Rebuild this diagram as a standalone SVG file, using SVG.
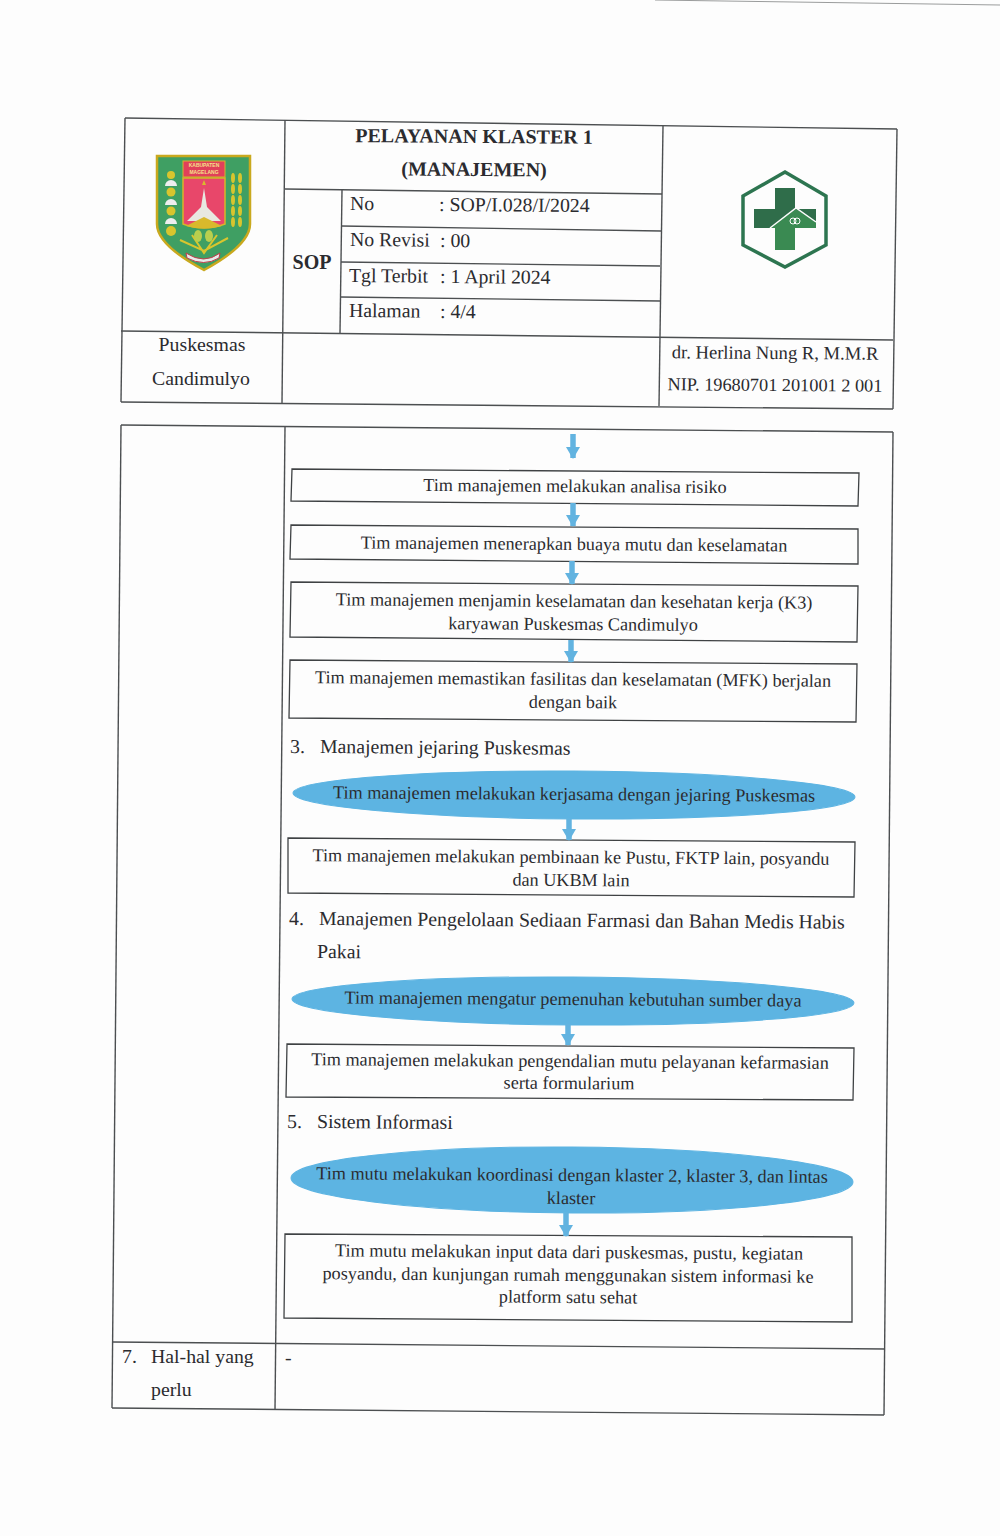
<svg xmlns="http://www.w3.org/2000/svg" width="1000" height="1536" viewBox="0 0 1000 1536">
<style>
text{font-family:"Liberation Serif","Times New Roman",serif;fill:#2b2b2f;font-size:19.8px}
.c{text-anchor:middle}
.s{font-size:18.2px}
.b{font-weight:700;font-size:20px}
.grid line{stroke:#4c4f51;stroke-width:1.4}
.box polygon{fill:#fdfdfd;stroke:#3f4244;stroke-width:1.3}
ellipse.e{fill:#5db4e2;stroke:#5db4e2}
.arrow{stroke:#62b3e0;stroke-width:5.5;fill:none;marker-end:url(#ah)}
</style>
<defs>
<marker id="ah" markerUnits="userSpaceOnUse" markerWidth="12" markerHeight="14" refX="11" refY="7" orient="auto" viewBox="0 0 12 14"><path d="M0 0L12 7L0 14Z" fill="#62b3e0"/></marker>
</defs>
<rect width="1000" height="1536" fill="#fdfdfd"/>
<line x1="655" y1="0" x2="1000" y2="5" stroke="#9a9c9c" stroke-width="1"/>
<g id="header-grid" class="grid">
<line x1="125" y1="118" x2="897" y2="129"/>
<line x1="125" y1="118" x2="121" y2="402"/>
<line x1="121" y1="402" x2="893" y2="409"/>
<line x1="897" y1="129" x2="893" y2="409"/>
<line x1="285" y1="120" x2="282" y2="403"/>
<line x1="663" y1="126" x2="659" y2="406"/>
<line x1="285" y1="189" x2="662" y2="194"/>
<line x1="342" y1="190" x2="340" y2="333"/>
<line x1="341" y1="226" x2="661" y2="231"/>
<line x1="341" y1="262" x2="660" y2="266"/>
<line x1="340" y1="297" x2="660" y2="301"/>
<line x1="121" y1="331" x2="893" y2="340"/>
</g>
<g id="header-text">
<text class="c b" x="474" y="143" transform="rotate(.4 474 143)">PELAYANAN KLASTER 1</text>
<text class="c b" x="474" y="176" transform="rotate(.4 474 176)">(MANAJEMEN)</text>
<text class="c b" x="312" y="269">SOP</text>
<text x="350" y="210" transform="rotate(.4 350 210)">No</text>
<text x="439" y="211" transform="rotate(.4 439 211)">: SOP/I.028/I/2024</text>
<text x="350" y="246" transform="rotate(.4 350 246)">No Revisi</text>
<text x="440" y="247" transform="rotate(.4 440 247)">: 00</text>
<text x="349" y="282" transform="rotate(.4 349 282)">Tgl Terbit</text>
<text x="440" y="283" transform="rotate(.4 440 283)">: 1 April 2024</text>
<text x="349" y="317" transform="rotate(.4 349 317)">Halaman</text>
<text x="440" y="318" transform="rotate(.4 440 318)">: 4/4</text>
<text class="c" x="202" y="351">Puskesmas</text>
<text class="c" x="201" y="385">Candimulyo</text>
<text class="c" x="775" y="359" transform="rotate(.4 775 359)" style="font-size:18.6px">dr. Herlina Nung R, M.M.R</text>
<text class="c" x="775" y="391" transform="rotate(.4 775 391)" style="font-size:18.3px">NIP. 19680701 201001 2 001</text>
</g>
<g id="logo-kabupaten">
<path d="M157 156H250V224Q250 245 204 270Q157 245 157 224Z" fill="#3f9f63" stroke="#c9a91e" stroke-width="2.5"/>
<rect x="183" y="161" width="42" height="16" fill="#e0405a" stroke="#d6b52a"/>
<text class="c" x="204" y="167" style="font-size:5px;fill:#f5e08a;font-family:'Liberation Sans',sans-serif;font-weight:700">KABUPATEN</text>
<text class="c" x="204" y="174" style="font-size:5px;fill:#f5e08a;font-family:'Liberation Sans',sans-serif;font-weight:700">MAGELANG</text>
<path d="M183 178H225V224Q204 232 183 224Z" fill="#e8476a" stroke="#d6b52a" stroke-width="1.5"/>
<path d="M204 188L207 207L221 221H187L201 207Z" fill="#e8e8e0"/>
<path d="M186 226L204 217L222 226Q204 231 186 226Z" fill="#d9b92c"/>
<path d="M204 180l2 5h-4z" fill="#d9b92c"/>
<g fill="#d8c52e"><circle cx="171" cy="175" r="4"/><path d="M165 186a6 6 0 0 1 12 0z" fill="#eee"/><circle cx="171" cy="192" r="4.5"/><path d="M165 205a6 6 0 0 1 12 0z" fill="#eee"/><circle cx="171" cy="211" r="4.5"/><path d="M165 224a6 6 0 0 1 12 0z" fill="#eee"/><circle cx="171" cy="231" r="5"/></g>
<g fill="#d8c52e"><ellipse cx="233" cy="178" rx="2" ry="5"/><ellipse cx="240" cy="178" rx="2" ry="5"/><ellipse cx="233" cy="189" rx="2" ry="5"/><ellipse cx="240" cy="189" rx="2" ry="5"/><ellipse cx="233" cy="200" rx="2" ry="5"/><ellipse cx="240" cy="200" rx="2" ry="5"/><ellipse cx="233" cy="211" rx="2" ry="5"/><ellipse cx="240" cy="211" rx="2" ry="5"/><ellipse cx="233" cy="222" rx="2" ry="5"/><ellipse cx="240" cy="222" rx="2" ry="5"/></g>
<path d="M192 235L204 253L217 235M180 240L204 251L228 238" fill="none" stroke="#d8c52e" stroke-width="2"/>
<ellipse cx="198" cy="236" rx="4" ry="6" fill="#b9cf4e"/><ellipse cx="209" cy="236" rx="4" ry="6" fill="#b9cf4e"/>
<path d="M186 253Q204 265 220 253L219 258Q204 267 187 258Z" fill="#e7eaea" stroke="#c43c4a"/>
</g>
<g id="logo-puskesmas">
<path d="M785 172L826 196V245L785 267L743 245V196Z" fill="#fdfdfd" stroke="#2d7550" stroke-width="3.5"/>
<path d="M775 188H795V209H816V228H795V250H775V228H754V209H775Z" fill="#2f6d4a"/>
<path d="M770 228L796 209L816 222V228H795V250H775V228Z" fill="#3a8a52"/>
<path d="M770 228L796 208L816 222" fill="none" stroke="#fdfdfd" stroke-width="1.5"/>
<circle cx="793" cy="221" r="3" fill="none" stroke="#fff"/><circle cx="797" cy="221" r="3" fill="none" stroke="#fff"/>
</g>
<g id="body-grid" class="grid">
<line x1="121" y1="425" x2="893" y2="432"/>
<line x1="121" y1="425" x2="112" y2="1408"/>
<line x1="112" y1="1408" x2="884" y2="1415"/>
<line x1="893" y1="432" x2="884" y2="1415"/>
<line x1="285" y1="427" x2="275" y2="1410"/>
<line x1="113" y1="1342" x2="885" y2="1349"/>
</g>
<g id="n1" class="box"><polygon points="292,469 859,473 858,506 291,501"/><text class="c s" x="575" y="492" transform="rotate(.4 575 492)">Tim manajemen melakukan analisa risiko</text></g>
<g id="n2" class="box"><polygon points="291,525 858,529 858,564 290,559"/><text class="c s" x="574" y="550" transform="rotate(.4 574 550)">Tim manajemen menerapkan buaya mutu dan keselamatan</text></g>
<g id="n3" class="box"><polygon points="291,582 858,586 857,642 290,637"/><text class="c s" x="574" y="607" transform="rotate(.4 574 607)">Tim manajemen menjamin keselamatan dan kesehatan kerja (K3)</text><text class="c s" x="573" y="630" transform="rotate(.4 573 630)">karyawan Puskesmas Candimulyo</text></g>
<g id="n4" class="box"><polygon points="290,660 857,664 856,722 289,718"/><text class="c s" x="573" y="685" transform="rotate(.4 573 685)">Tim manajemen memastikan fasilitas dan keselamatan (MFK) berjalan</text><text class="c s" x="573" y="708" transform="rotate(.4 573 708)">dengan baik</text></g>
<g id="h3"><text x="290" y="753" transform="rotate(.4 290 753)">3.</text><text x="320" y="753" transform="rotate(.4 320 753)">Manajemen jejaring Puskesmas</text></g>
<g id="n5"><ellipse class="e" cx="574" cy="795" rx="281" ry="24" transform="rotate(.4 574 795)"/><text class="c s" x="574" y="800" transform="rotate(.4 574 800)">Tim manajemen melakukan kerjasama dengan jejaring Puskesmas</text></g>
<g id="n6" class="box"><polygon points="288,838 855,842 854,897 288,893"/><text class="c s" x="571" y="863" transform="rotate(.4 571 863)">Tim manajemen melakukan pembinaan ke Pustu, FKTP lain, posyandu</text><text class="c s" x="571" y="886" transform="rotate(.4 571 886)">dan UKBM lain</text></g>
<g id="h4"><text x="289" y="925" transform="rotate(.4 289 925)">4.</text><text x="319" y="925" transform="rotate(.4 319 925)">Manajemen Pengelolaan Sediaan Farmasi dan Bahan Medis Habis</text><text x="317" y="958" transform="rotate(.4 317 958)">Pakai</text></g>
<g id="n7"><ellipse class="e" cx="573" cy="1001" rx="281" ry="24" transform="rotate(.4 573 1001)"/><text class="c s" x="573" y="1005" transform="rotate(.4 573 1005)">Tim manajemen mengatur pemenuhan kebutuhan sumber daya</text></g>
<g id="n8" class="box"><polygon points="287,1044 854,1048 853,1100 286,1097"/><text class="c s" x="570" y="1067" transform="rotate(.4 570 1067)">Tim manajemen melakukan pengendalian mutu pelayanan kefarmasian</text><text class="c s" x="569" y="1089" transform="rotate(.4 569 1089)">serta formularium</text></g>
<g id="h5"><text x="287" y="1128" transform="rotate(.4 287 1128)">5.</text><text x="317" y="1128" transform="rotate(.4 317 1128)">Sistem Informasi</text></g>
<g id="n9"><ellipse class="e" cx="572" cy="1180" rx="281" ry="33" transform="rotate(.4 572 1180)"/><text class="c s" x="572" y="1181" transform="rotate(.4 572 1181)">Tim mutu melakukan koordinasi dengan klaster 2, klaster 3, dan lintas</text><text class="c s" x="571" y="1204" transform="rotate(.4 571 1204)">klaster</text></g>
<g id="n10" class="box"><polygon points="285,1234 852,1237 852,1322 284,1318"/><text class="c s" x="569" y="1258" transform="rotate(.4 569 1258)">Tim mutu melakukan input data dari puskesmas, pustu, kegiatan</text><text class="c s" x="568" y="1281" transform="rotate(.4 568 1281)">posyandu, dan kunjungan rumah menggunakan sistem informasi ke</text><text class="c s" x="568" y="1303" transform="rotate(.4 568 1303)">platform satu sehat</text></g>
<g id="row7"><text x="122" y="1363">7.</text><text x="151" y="1363">Hal-hal yang</text><text x="151" y="1396">perlu</text><text x="285" y="1364">-</text></g>
<g id="connectors">
<path class="arrow" d="M573 434V458"/>
<path class="arrow" d="M573 503V526"/>
<path class="arrow" d="M572 561V584"/>
<path class="arrow" d="M571 640V662"/>
<path class="arrow" d="M569 819V840"/>
<path class="arrow" d="M568 1024V1045"/>
<path class="arrow" d="M566 1213V1236"/>
</g>
</svg>
